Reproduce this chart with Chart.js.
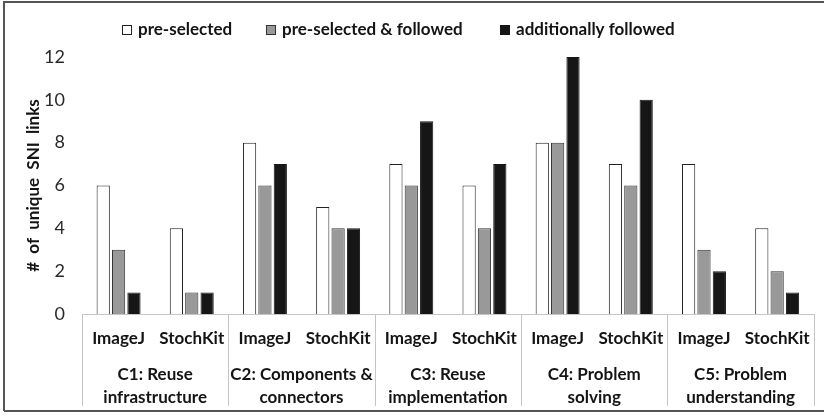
<!DOCTYPE html>
<html>
<head>
<meta charset="utf-8">
<script src="https://cdn.jsdelivr.net/npm/chart.js@4/dist/chart.umd.min.js"></script>
<style>
  html, body { margin: 0; padding: 0; background: #fff; }
  #wrap { position: relative; width: 824px; height: 415px; }
</style>
</head>
<body>
<div id="wrap"><canvas id="c" width="824" height="415"></canvas></div>
<script>
// Tools per category and the category groups they belong to
const tools = ['ImageJ', 'StochKit', 'ImageJ', 'StochKit', 'ImageJ', 'StochKit', 'ImageJ', 'StochKit', 'ImageJ', 'StochKit'];
const groups = [
  ['C1: Reuse', 'infrastructure'],
  ['C2: Components &', 'connectors'],
  ['C3: Reuse', 'implementation'],
  ['C4: Problem', 'solving'],
  ['C5: Problem', 'understanding']
];
const seriesNames = ['pre-selected', 'pre-selected & followed', 'additionally followed'];
const preSelected = [6, 4, 8, 5, 7, 6, 8, 7, 7, 4];
const preSelectedFollowed = [3, 1, 6, 4, 6, 4, 8, 6, 3, 2];
const additionallyFollowed = [1, 1, 7, 4, 9, 7, 12, 10, 2, 1];
const yTicks = [0, 2, 4, 6, 8, 10, 12];

const FONT = 'Lato, "Open Sans", sans-serif';
const TEXT = '#141414';
const fills = ['#ffffff', '#999999', '#161616'];
const edges = ['#222222', '#333333', '#161616'];

// Group labels, separators, legend and frame
const decor = {
  id: 'decor',
  afterDraw(chart) {
    const ctx = chart.ctx;
    const x = chart.scales.x;
    const area = chart.chartArea;
    const per = tools.length / groups.length;
    ctx.save();
    // separators between groups
    ctx.strokeStyle = '#c6c6c6';
    ctx.lineWidth = 1;
    for (let g = 0; g <= groups.length; g++) {
      let px;
      if (g === 0) px = area.left;
      else if (g === groups.length) px = area.right;
      else px = (x.getPixelForValue(g * per - 1) + x.getPixelForValue(g * per)) / 2;
      px = Math.round(px) + 0.5;
      ctx.beginPath();
      ctx.moveTo(px, area.bottom);
      ctx.lineTo(px, 406);
      ctx.stroke();
    }
    // group labels
    ctx.fillStyle = TEXT;
    ctx.font = 'bold 17px ' + FONT;
    ctx.textAlign = 'center';
    ctx.textBaseline = 'middle';
    groups.forEach((lines, g) => {
      const cx = (x.getPixelForValue(g * per) + x.getPixelForValue(g * per + per - 1)) / 2;
      lines.forEach((t, i) => ctx.fillText(t, cx, 375 + i * 23));
    });
    // legend
    const legendX = [122, 266, 500];
    ctx.textAlign = 'left';
    seriesNames.forEach((name, i) => {
      const bx = legendX[i];
      ctx.fillStyle = fills[i];
      ctx.fillRect(bx, 25, 10, 10);
      ctx.strokeStyle = edges[i];
      ctx.strokeRect(bx + 0.5, 25.5, 9, 9);
      ctx.fillStyle = TEXT;
      ctx.fillText(name, bx + 16, 30);
    });
    // frame
    ctx.strokeStyle = '#555555';
    ctx.lineWidth = 2;
    ctx.beginPath();
    ctx.moveTo(4, 411);
    ctx.lineTo(4, 2);
    ctx.lineTo(824, 2);
    ctx.moveTo(4, 411);
    ctx.lineTo(824, 411);
    ctx.stroke();
    ctx.restore();
  }
};

const values = [preSelected, preSelectedFollowed, additionallyFollowed];

new Chart(document.getElementById('c'), {
  type: 'bar',
  data: {
    labels: tools,
    datasets: seriesNames.map((name, i) => ({
      label: name,
      data: values[i],
      backgroundColor: fills[i],
      borderColor: edges[i],
      borderWidth: 1,
      borderSkipped: 'bottom',
      categoryPercentage: 0.63,
      barPercentage: 0.86
    }))
  },
  options: {
    responsive: false,
    animation: false,
    devicePixelRatio: 1,
    layout: { padding: { left: 4, right: 8, top: 57, bottom: 0 } },
    plugins: { legend: { display: false }, tooltip: { enabled: false } },
    scales: {
      x: {
        grid: { display: false, drawTicks: false },
        border: { display: true, color: '#c6c6c6', width: 1 },
        ticks: { color: TEXT, font: { family: FONT, size: 17, weight: 'bold' }, padding: 14, maxRotation: 0, autoSkip: false },
        afterFit(scale) { scale.height = 101; }
      },
      y: {
        min: 0,
        max: 12,
        afterBuildTicks(scale) { scale.ticks = yTicks.map(v => ({ value: v })); },
        grid: { display: false, drawTicks: false },
        border: { display: false },
        ticks: { color: '#2a2a2a', font: { family: FONT, size: 18 }, padding: 17 },
        title: {
          display: true,
          text: '#  of  unique  SNI  links',
          color: TEXT,
          font: { family: FONT, size: 17, weight: 'bold' },
          padding: { top: 19, bottom: 0 }
        },
        afterFit(scale) { scale.width = 78; }
      }
    }
  },
  plugins: [decor]
});
</script>
</body>
</html>
